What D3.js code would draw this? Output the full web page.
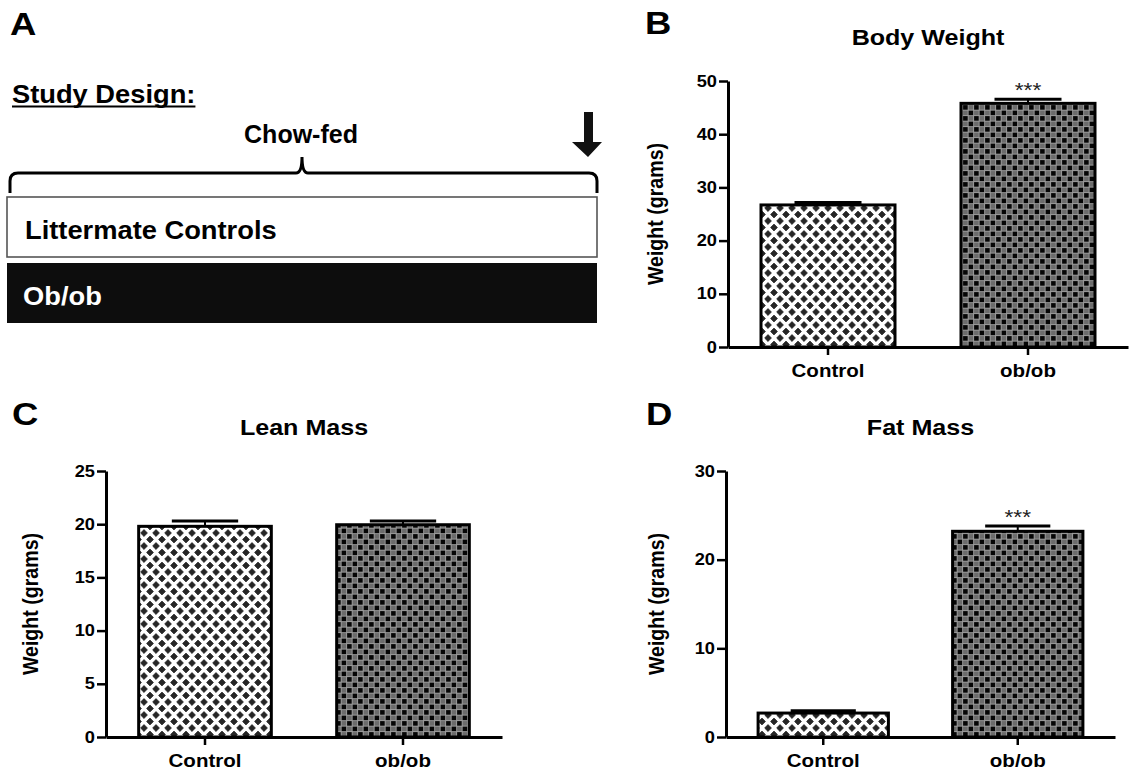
<!DOCTYPE html>
<html>
<head>
<meta charset="utf-8">
<script src="https://cdn.jsdelivr.net/npm/d3@7"></script>
<style>
  body { margin: 0; background: #fff; }
  svg { display: block; }
</style>
</head>
<body>
<div id="chart"></div>
<script>
// Data
const groups = ["Control", "ob/ob"];

const bodyWeightMean = [26.7, 45.8];
const bodyWeightSem = [0.45, 0.75];
const bodyWeightTicks = [0, 10, 20, 30, 40, 50];

const leanMassMean = [19.8, 19.95];
const leanMassSem = [0.5, 0.35];
const leanMassTicks = [0, 5, 10, 15, 20, 25];

const fatMassMean = [2.7, 23.2];
const fatMassSem = [0.25, 0.6];
const fatMassTicks = [0, 10, 20, 30];

const bodyWeightSig = ["", "***"];
const leanMassSig = ["", ""];
const fatMassSig = ["", "***"];

const yLabel = "Weight (grams)";

const width = 1135;
const height = 774;
const font = "'Liberation Sans', Arial, Helvetica, sans-serif";
const k = 1.14; // the figure's text is slightly widened

const svg = d3.select("#chart")
    .append("svg")
    .attr("width", width)
    .attr("height", height)
    .attr("viewBox", [0, 0, width, height])
    .style("font-family", font);

// Fill patterns
const defs = svg.append("defs");

const diamonds = defs.append("pattern")
    .attr("id", "diamonds")
    .attr("patternUnits", "userSpaceOnUse")
    .attr("width", 12)
    .attr("height", 13);
diamonds.append("rect").attr("width", 12).attr("height", 13).attr("fill", "#fff");
[[0, 0], [12, 0], [0, 13], [12, 13], [6, 6.5]].forEach(([cx, cy]) => {
    diamonds.append("path")
        .attr("d", `M${cx - 3.4},${cy} L${cx},${cy - 3.4} L${cx + 3.4},${cy} L${cx},${cy + 3.4} Z`)
        .attr("fill", "#262626")
        .attr("stroke", "#262626")
        .attr("stroke-width", 0.8)
        .attr("stroke-linejoin", "round");
});

const checker = defs.append("pattern")
    .attr("id", "checker")
    .attr("patternUnits", "userSpaceOnUse")
    .attr("width", 11)
    .attr("height", 11);
checker.append("rect").attr("width", 11).attr("height", 11).attr("fill", "#a0a0a0");
checker.append("rect").attr("x", 0.6).attr("y", 0.6).attr("width", 4.6).attr("height", 4.6).attr("fill", "#050505");
checker.append("rect").attr("x", 6.1).attr("y", 6.1).attr("width", 4.6).attr("height", 4.6).attr("fill", "#050505");
checker.append("rect").attr("x", 6.1).attr("y", 0.6).attr("width", 4.6).attr("height", 4.6).attr("fill", "#6c6c6c");
checker.append("rect").attr("x", 0.6).attr("y", 6.1).attr("width", 4.6).attr("height", 4.6).attr("fill", "#6c6c6c");

const fills = ["url(#diamonds)", "url(#checker)"];

// helper for widened text
function addText(parent, x, y, str, size, opts = {}) {
    const sx = opts.stretch || k;
    return parent.append("text")
        .attr("transform", `translate(${x},${y}) scale(${sx},1)${opts.rotate ? " rotate(-90)" : ""}`)
        .attr("text-anchor", opts.anchor || "start")
        .attr("font-size", size)
        .attr("font-weight", opts.weight || "bold")
        .attr("fill", opts.fill || "#000")
        .text(str);
}

// ---------- Panel A: study design ----------
const a = svg.append("g");
addText(a, 10, 35, "A", 32);

const sd = addText(a, 12, 103, "Study Design:", 26, { stretch: 1.05 });
const sdw = sd.node().getBBox().width * 1.05;
a.append("line")
    .attr("x1", 12).attr("x2", 12 + sdw)
    .attr("y1", 106.5).attr("y2", 106.5)
    .attr("stroke", "#000").attr("stroke-width", 2);

addText(a, 301, 143, "Chow-fed", 25, { anchor: "middle", stretch: 1.0 });

// brace
a.append("path")
    .attr("d", "M10,193 L10,181 Q10,173 18,173 L296,173 Q302,173 302,157 Q302,173 308,173 L589,173 Q597,173 597,181 L597,193")
    .attr("fill", "none")
    .attr("stroke", "#000")
    .attr("stroke-width", 3);

// arrow
a.append("path")
    .attr("d", "M584,112 L593,112 L593,142 L602,142 L588,157 L572,142 L584,142 Z")
    .attr("fill", "#111");

a.append("rect")
    .attr("x", 7).attr("y", 197).attr("width", 590).attr("height", 60)
    .attr("fill", "#fff").attr("stroke", "#555").attr("stroke-width", 1.6);
addText(a, 25, 239, "Littermate Controls", 26, { stretch: 1.05 });

a.append("rect")
    .attr("x", 7).attr("y", 263).attr("width", 590).attr("height", 60)
    .attr("fill", "#0d0d0d");
addText(a, 23, 305, "Ob/ob", 26, { stretch: 1.05, fill: "#fff" });

// ---------- Bar panels ----------
const panels = [
    { letter: "B", lx: 645, ly: 34, title: "Body Weight", mean: bodyWeightMean, sem: bodyWeightSem, sig: bodyWeightSig,
      ticks: bodyWeightTicks, x0: 728, x1: 1128, yb: 347, yt: 81, ty: 45, labX: 663 },
    { letter: "C", lx: 12, ly: 425, title: "Lean Mass", mean: leanMassMean, sem: leanMassSem, sig: leanMassSig,
      ticks: leanMassTicks, x0: 106, x1: 502, yb: 737, yt: 471, ty: 435, labX: 38 },
    { letter: "D", lx: 646, ly: 425, title: "Fat Mass", mean: fatMassMean, sem: fatMassSem, sig: fatMassSig,
      ticks: fatMassTicks, x0: 726, x1: 1115, yb: 737, yt: 471, ty: 435, labX: 664 }
];

panels.forEach(p => {
    const g = svg.append("g");
    const data = groups.map((name, i) => ({ name, mean: p.mean[i], sem: p.sem[i], sig: p.sig[i], fill: fills[i] }));

    const x = d3.scaleBand()
        .domain(groups)
        .range([p.x0, p.x1])
        .paddingInner(0.33)
        .paddingOuter(0.165);

    const y = d3.scaleLinear()
        .domain([0, d3.max(p.ticks)])
        .range([p.yb, p.yt]);

    addText(g, p.lx, p.ly, p.letter, 32);
    addText(g, (p.x0 + p.x1) / 2, p.ty, p.title, 22, { anchor: "middle" });
    addText(g, p.labX, (p.yb + p.yt) / 2, yLabel, 19.6, { anchor: "middle", rotate: true });

    // bars
    g.append("g")
        .selectAll("rect")
        .data(data)
        .join("rect")
        .attr("x", d => x(d.name))
        .attr("y", d => y(d.mean))
        .attr("width", x.bandwidth())
        .attr("height", d => y(0) - y(d.mean))
        .attr("fill", d => d.fill)
        .attr("stroke", "#000")
        .attr("stroke-width", 3);

    // error bars (upper half only)
    const eb = g.append("g").attr("stroke", "#000");
    eb.selectAll("line.v")
        .data(data)
        .join("line")
        .attr("class", "v")
        .attr("x1", d => x(d.name) + x.bandwidth() / 2)
        .attr("x2", d => x(d.name) + x.bandwidth() / 2)
        .attr("y1", d => y(d.mean))
        .attr("y2", d => y(d.mean + d.sem))
        .attr("stroke-width", 2);
    eb.selectAll("line.cap")
        .data(data)
        .join("line")
        .attr("class", "cap")
        .attr("x1", d => x(d.name) + x.bandwidth() / 4)
        .attr("x2", d => x(d.name) + x.bandwidth() * 3 / 4)
        .attr("y1", d => y(d.mean + d.sem))
        .attr("y2", d => y(d.mean + d.sem))
        .attr("stroke-width", 3);

    // significance stars
    data.filter(d => d.sig).forEach(d => {
        addText(g, x(d.name) + x.bandwidth() / 2, y(d.mean + d.sem) - 2, d.sig, 20,
            { anchor: "middle", weight: "normal", fill: "#222" });
    });

    // y axis
    const yAxis = g.append("g")
        .attr("transform", `translate(${p.x0},0)`)
        .call(d3.axisLeft(y).tickValues(p.ticks).tickSize(9).tickSizeOuter(0).tickPadding(2));
    yAxis.select(".domain").attr("stroke-width", 3);
    yAxis.selectAll(".tick line").attr("stroke-width", 2.5);
    yAxis.selectAll(".tick text")
        .attr("font-family", font)
        .attr("font-size", 16)
        .attr("font-weight", "bold")
        .attr("fill", "#000")
        .attr("x", -11 / k)
        .attr("transform", `scale(${k},1)`);

    // x axis
    const xAxis = g.append("g")
        .attr("transform", `translate(0,${p.yb})`)
        .call(d3.axisBottom(x).tickSize(8).tickSizeOuter(0));
    xAxis.select(".domain").attr("stroke-width", 3);
    xAxis.selectAll(".tick line").attr("stroke-width", 2.5);
    xAxis.selectAll(".tick text")
        .attr("font-family", font)
        .attr("font-size", 18)
        .attr("font-weight", "bold")
        .attr("fill", "#000")
        .attr("y", 30.5)
        .attr("dy", 0)
        .attr("transform", `scale(${k},1)`);
});
</script>
</body>
</html>
